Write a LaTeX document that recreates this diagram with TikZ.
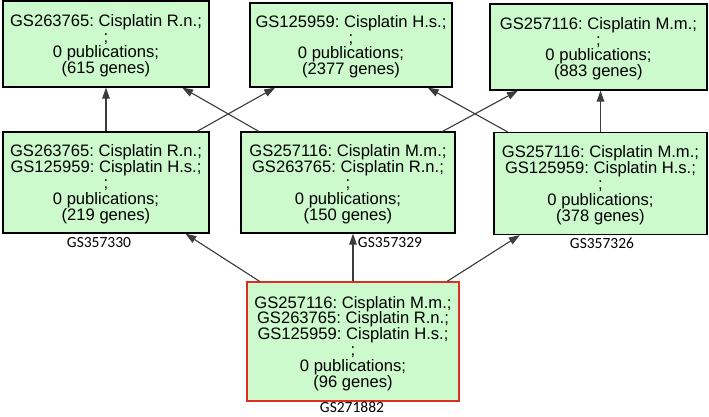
\documentclass[tikz,border=0pt]{standalone}
\usepackage{fontspec}
\setmainfont{Liberation Sans}
\newfontfamily\idfont{Carlito}
\usetikzlibrary{arrows.meta}
\frenchspacing

\definecolor{boxgruen}{RGB}{204,250,204}
\definecolor{kantengrau}{RGB}{60,60,60}
\definecolor{schnittrot}{RGB}{222,45,35}

\begin{document}
\begin{tikzpicture}[x=1pt,y=-1pt,>={Triangle[length=11pt,width=7.5pt]},
	gsbox/.style={draw=black, line width=1.2pt, fill=boxgruen, align=center,
		inner sep=0pt, text depth=0pt, font=\fontsize{16.6}{15.8}\selectfont},
	gsid/.style={inner sep=0pt, font=\idfont\fontsize{15.5}{16}\selectfont},
	kante/.style={->, draw=kantengrau, fill=kantengrau, line width=1.1pt}]
	\useasboundingbox (0,0) rectangle (709,416);

	% oberste Ebene
	\node[gsbox, minimum width=206pt, minimum height=86pt] (n263765) at (106,44)
		{GS263765: Cisplatin R.n.;\\;\\0 publications;\\(615 genes)};
	\node[gsbox, minimum width=202pt, minimum height=84pt] (n125959) at (351,45)
		{GS125959: Cisplatin H.s.;\\;\\0 publications;\\(2377 genes)};
	\node[gsbox, minimum width=217pt, minimum height=86pt] (n257116) at (598.5,47)
		{GS257116: Cisplatin M.m.;\\;\\0 publications;\\(883 genes)};

	% mittlere Ebene
	\node[gsbox, minimum width=206pt, minimum height=101pt] (n357330) at (106,182.5)
		{GS263765: Cisplatin R.n.;\\GS125959: Cisplatin H.s.;\\;\\0 publications;\\(219 genes)};
	\node[gsbox, minimum width=214pt, minimum height=101pt] (n357329) at (348,182.5)
		{GS257116: Cisplatin M.m.;\\GS263765: Cisplatin R.n.;\\;\\0 publications;\\(150 genes)};
	\node[gsbox, minimum width=213pt, minimum height=102pt] (n357326) at (600.5,183.5)
		{GS257116: Cisplatin M.m.;\\GS125959: Cisplatin H.s.;\\;\\0 publications;\\(378 genes)};

	% Schnittmenge
	\node[gsbox, draw=schnittrot, line width=1.4pt, minimum width=212pt, minimum height=119pt] (n271882) at (353,341.5)
		{GS257116: Cisplatin M.m.;\\GS263765: Cisplatin R.n.;\\GS125959: Cisplatin H.s.;\\;\\0 publications;\\(96 genes)};

	\node[gsid] (l357330) at (99,243) {GS357330};
	\node[gsid] (l357329) at (390,243) {GS357329};
	\node[gsid] (l357326) at (602,243) {GS357326};
	\node[gsid] (l271882) at (352,407.5) {GS271882};

	\draw[kante] (n357330) -- (n263765);
	\draw[kante] (n357330) -- (n125959);
	\draw[kante] (n357329) -- (n263765);
	\draw[kante] (n357329) -- (n257116);
	\draw[kante] (n357326) -- (n125959);
	\draw[kante] (n357326.north) -- (n357326.north |- n257116.south);

	\draw[kante] (n271882) -- (n357330);
	\draw[kante] (n271882.north) -- (n271882.north |- n357329.south);
	\draw[kante] (n271882) -- (n357326);
\end{tikzpicture}
\end{document}
